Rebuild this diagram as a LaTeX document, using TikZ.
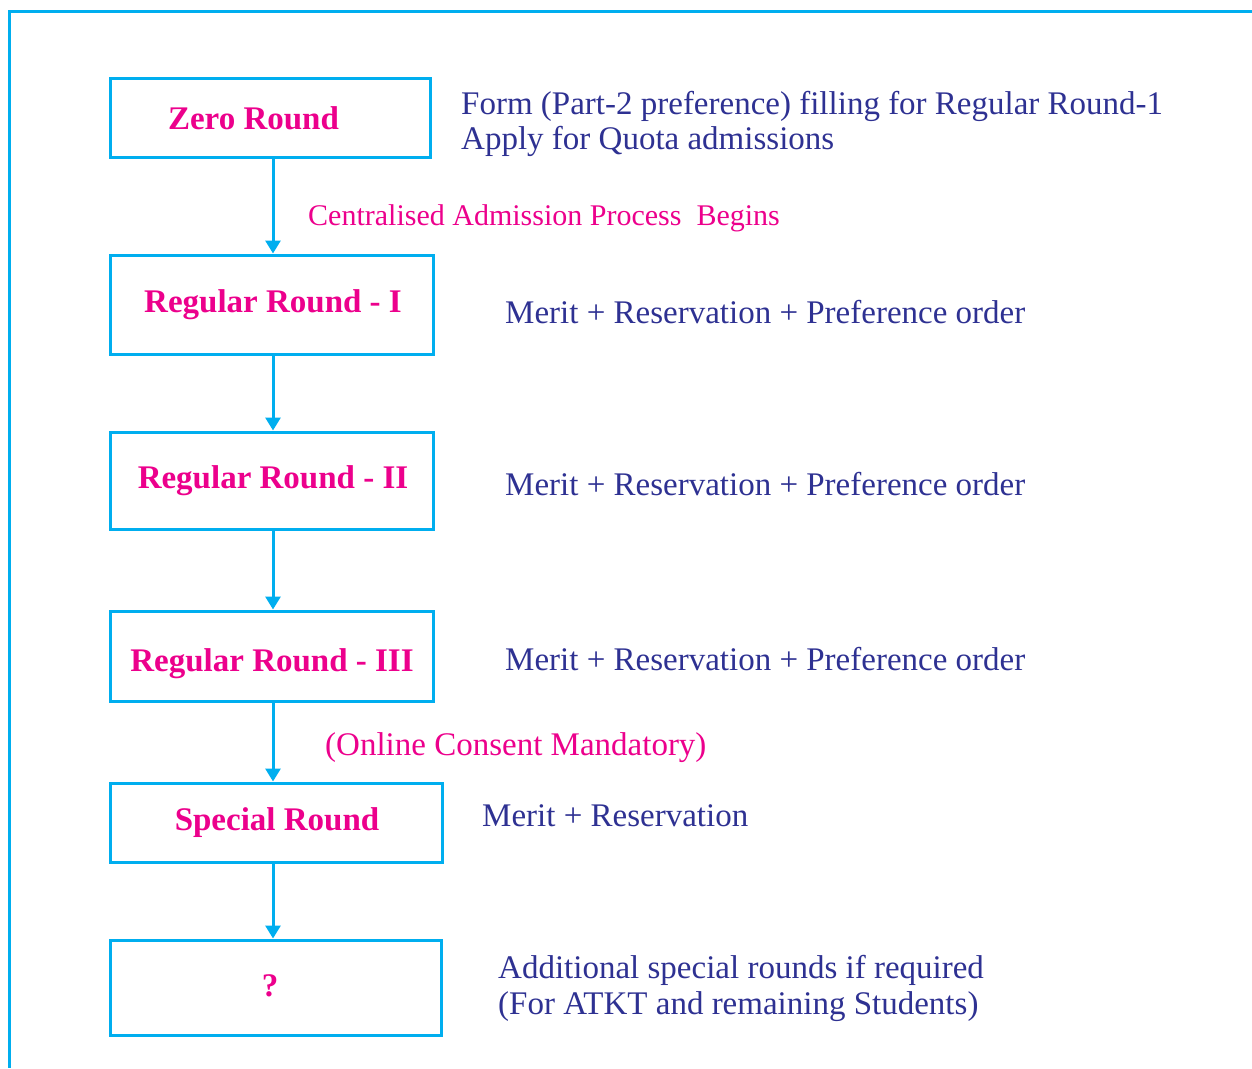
\documentclass[tikz,border=0pt]{standalone}
\usepackage{fontspec}
\setmainfont{Liberation Serif}
\usetikzlibrary{arrows.meta}
\definecolor{cyanline}{HTML}{00AEEF}
\definecolor{pinktext}{HTML}{EC008C}
\definecolor{navytext}{HTML}{2E3192}
\tikzset{
  roundbox/.style={draw=cyanline, line width=3pt, inner sep=0pt},
  boxtext/.style={text=pinktext, font=\fontsize{33}{36}\selectfont\bfseries, inner sep=0pt, anchor=base},
  desc/.style={text=navytext, font=\fontsize{33}{37}\selectfont, inner sep=0pt, anchor=base west},
  pinknote/.style={text=pinktext, font=\fontsize{30}{36}\selectfont, inner sep=0pt, anchor=base west},
  flow/.style={draw=cyanline, line width=3pt, -{Triangle[width=15pt,length=13pt]}},
  frameline/.style={draw=cyanline, line width=3pt}
}
\begin{document}
\begin{tikzpicture}[x=1pt,y=-1pt]
\useasboundingbox (0,0) rectangle (1252,1068);
% outer frame
\coordinate (ftr) at (1252,11);
\coordinate (ftl) at (9.5,11);
\coordinate (fbl) at (9.5,1068);
\draw[frameline] (ftr) -- (ftl) -- (fbl);
% boxes
\node[roundbox, minimum width=320pt, minimum height=79pt] (b0) at (270,117.5) {};
\node[roundbox, minimum width=323pt, minimum height=99pt] (b1) at (271.5,304.5) {};
\node[roundbox, minimum width=323pt, minimum height=97pt] (b2) at (271.5,480.5) {};
\node[roundbox, minimum width=323pt, minimum height=90pt] (b3) at (271.5,656) {};
\node[roundbox, minimum width=332pt, minimum height=79pt] (b4) at (276,822.5) {};
\node[roundbox, minimum width=331pt, minimum height=95pt] (b5) at (275.5,987.5) {};
% box texts
\node[boxtext] (t0) at (253.5,129) {Zero Round};
\node[boxtext] (t1) at (273,312) {Regular Round - I};
\node[boxtext] (t2) at (273,488) {Regular Round - II};
\node[boxtext] (t3) at (272,671) {Regular Round - III};
\node[boxtext] (t4) at (277,830) {Special Round};
\node[boxtext] (t5) at (270,996) {?};
% connectors
\draw[flow] (b0.south -| 273,0) -- (b1.north -| 273,0);
\draw[flow] (b1.south -| 273,0) -- (b2.north -| 273,0);
\draw[flow] (b2.south -| 273,0) -- (b3.north -| 273,0);
\draw[flow] (b3.south -| 273,0) -- (b4.north -| 273,0);
\draw[flow] (b4.south -| 273,0) -- (b5.north -| 273,0);
% descriptions
\node[desc] (d0a) at (461,114) {Form (Part-2 preference) filling for Regular Round-1};
\node[desc] (d0b) at (461,149) {Apply for Quota admissions};
\node[pinknote] (n1) at (308,225) {Centralised Admission Process\ \ Begins};
\node[desc] (d1) at (505,323) {Merit + Reservation + Preference order};
\node[desc] (d2) at (505,495) {Merit + Reservation + Preference order};
\node[desc] (d3) at (505,670) {Merit + Reservation + Preference order};
\node[pinknote, font=\fontsize{33}{36}\selectfont] (n2) at (325,755) {(Online Consent Mandatory)};
\node[desc] (d4) at (482,826) {Merit + Reservation};
\node[desc] (d5a) at (498,978) {Additional special rounds if required};
\node[desc] (d5b) at (498,1014) {(For ATKT and remaining Students)};
\end{tikzpicture}
\end{document}
